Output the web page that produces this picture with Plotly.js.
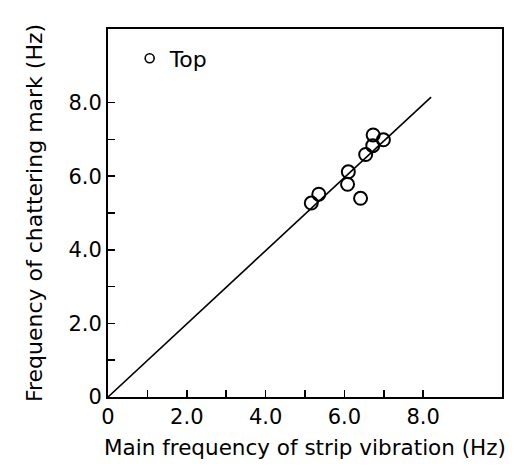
<!DOCTYPE html>
<html>
<head>
<meta charset="utf-8">
<script src="https://cdn.plot.ly/plotly-3.0.1.min.js"></script>
<style>html,body{margin:0;padding:0;background:#fff;}#chart{width:514px;height:470px;}</style>
</head>
<body>
<div id="chart"></div>
<script>
// Data
const stripFreq = [5.16, 5.35, 6.10, 6.08, 6.41, 6.54, 6.72, 6.73, 6.99];
const markFreq  = [5.27, 5.51, 6.12, 5.78, 5.40, 6.59, 6.83, 7.12, 6.99];
const lineX = [0, 8.2];
const lineY = [0, 8.15];
const tickVals = [0, 1, 2, 3, 4, 5, 6, 7, 8];
const tickText = ["0", "", "2.0", "", "4.0", "", "6.0", "", "8.0"];
const seriesName = "Top";

const font = "DejaVu Sans, sans-serif";

const traces = [
  {
    x: lineX, y: lineY, mode: "lines", type: "scatter",
    line: {color: "#000", width: 1.6}, showlegend: false, hoverinfo: "skip"
  },
  {
    x: stripFreq, y: markFreq, mode: "markers", type: "scatter", name: seriesName,
    marker: {symbol: "circle-open", size: 13, color: "#000", line: {width: 2, color: "#000"}},
    showlegend: false
  },
  {
    x: [null], y: [null], mode: "markers", type: "scatter", name: seriesName,
    marker: {symbol: "circle-open", size: 9, color: "#000", line: {width: 1.6, color: "#000"}},
    showlegend: true
  }
];

const axisCommon = {
  range: [0, 10],
  tickvals: tickVals,
  ticktext: tickText,
  ticks: "inside",
  ticklen: 7,
  tickwidth: 1.5,
  tickcolor: "#000",
  showline: true,
  linecolor: "#000",
  linewidth: 2,
  mirror: true,
  showgrid: false,
  zeroline: false,
  tickfont: {family: font, size: 21, color: "#000"},
  fixedrange: true
};

const layout = {
  width: 514, height: 470,
  margin: {l: 108, r: 12, t: 29, b: 73},
  paper_bgcolor: "#fff",
  plot_bgcolor: "#fff",
  font: {family: font, color: "#000"},
  xaxis: Object.assign({}, axisCommon, {
    title: {text: "Main frequency of strip vibration (Hz)", font: {family: font, size: 21.5, color: "#000"}, standoff: 12}
  }),
  yaxis: Object.assign({}, axisCommon, {
    title: {text: "Frequency of chattering mark (Hz)", font: {family: font, size: 22, color: "#000"}, standoff: 20}
  }),
  showlegend: true,
  legend: {
    x: 0.055, y: 0.92, xanchor: "left", yanchor: "middle",
    bgcolor: "rgba(0,0,0,0)", borderwidth: 0,
    font: {family: font, size: 22, color: "#000"}
  }
};

Plotly.newPlot("chart", traces, layout, {displayModeBar: false, staticPlot: true});
</script>
</body>
</html>
